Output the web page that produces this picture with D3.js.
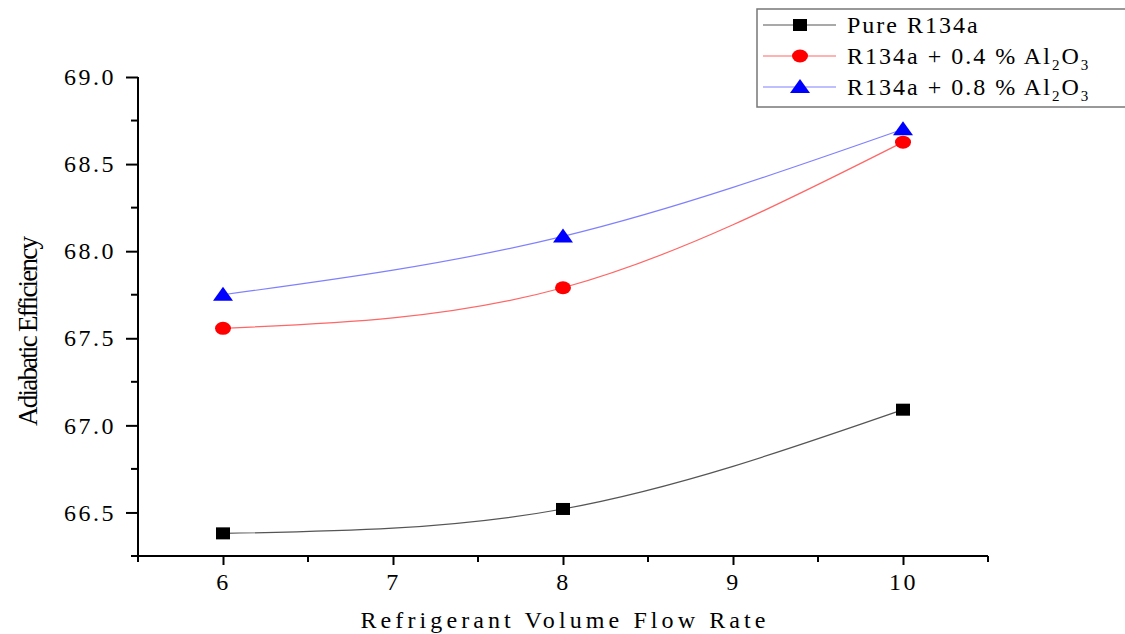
<!DOCTYPE html>
<html>
<head>
<meta charset="utf-8">
<script src="https://cdn.jsdelivr.net/npm/d3@7"></script>
<style>
  body { margin: 0; background: #fff; }
  svg text { font-family: "Liberation Serif", "DejaVu Serif", "Times New Roman", Times, serif !important; fill: #000; }
</style>
</head>
<body>
<script>
// data
var flowRate = [6, 8, 10];
var pureR134a = [66.38, 66.52, 67.09];
var al2o3_04 = [67.557, 67.79, 68.626];
var al2o3_08 = [67.75, 68.085, 68.70];
var yTicks = [66.5, 67.0, 67.5, 68.0, 68.5, 69.0];
var xTicks = [6, 7, 8, 9, 10];

var width = 1125, height = 634;

var svg = d3.select("body")
  .append("svg")
  .attr("width", width)
  .attr("height", height);

var x = d3.scaleLinear().domain([5.5, 10.5]).range([138, 988]);
var y = d3.scaleLinear().domain([66.25, 69.0]).range([556, 77]);

// axes
var xAxis = d3.axisBottom(x).tickValues(xTicks).tickSize(9).tickFormat(d3.format("d"));
var yAxis = d3.axisLeft(y).tickValues(yTicks).tickSize(12).tickFormat(d3.format(".1f"));

var gx = svg.append("g").attr("transform", "translate(0,556)").call(xAxis);
var gy = svg.append("g").attr("transform", "translate(138,0)").call(yAxis);
gx.attr("font-family", null);
gy.attr("font-family", null);

// minor ticks
var xMinor = [5.5, 6.5, 7.5, 8.5, 9.5, 10.5];
var yMinor = [66.25, 66.75, 67.25, 67.75, 68.25, 68.75];
svg.append("g").selectAll("line").data(xMinor).enter().append("line")
  .attr("x1", d => x(d)).attr("x2", d => x(d))
  .attr("y1", 556).attr("y2", 562)
  .attr("stroke", "#000").attr("stroke-width", 2);
svg.append("g").selectAll("line").data(yMinor).enter().append("line")
  .attr("x1", 131).attr("x2", 138)
  .attr("y1", d => y(d)).attr("y2", d => y(d))
  .attr("stroke", "#000").attr("stroke-width", 2);

[gx, gy].forEach(function(g) {
  g.select(".domain").attr("stroke", "#000").attr("stroke-width", 2)
  g.selectAll(".tick line").attr("stroke", "#000").attr("stroke-width", 2)
  g.selectAll(".tick text")
    .style("font-size", "24px")
    .style("letter-spacing", "2.5px")
    .attr("fill", "#000")
});
gx.select(".domain").attr("d", "M138,0H988");
gy.select(".domain").attr("d", "M0,556V77");
gx.selectAll(".tick text").attr("dy", "0.71em").attr("y", 17);
gy.selectAll(".tick text").attr("x", -22);

// axis titles
svg.append("text")
  .attr("x", 563).attr("y", 628)
  .attr("text-anchor", "middle")
  .attr("textLength", 405)
  .style("font-size", "24px")
  .text("Refrigerant Volume Flow Rate");

svg.append("text")
  .attr("transform", "translate(37,331) rotate(-90)")
  .attr("text-anchor", "middle")
  .attr("textLength", 190)
  .style("font-size", "27px")
  .text("Adiabatic Efficiency");

// series
var series = [
  { name: "Pure R134a", values: pureR134a, color: "#000", line: "#555", shape: "square" },
  { name: "R134a + 0.4 % Al2O3", values: al2o3_04, color: "#ff0000", line: "#ff6666", shape: "circle" },
  { name: "R134a + 0.8 % Al2O3", values: al2o3_08, color: "#0000ff", line: "#8080ff", shape: "triangle" }
];

var line = d3.line()
  .x(d => x(d[0]))
  .y(d => y(d[1]))
  .curve(d3.curveNatural);

function drawMarker(g, shape, color, cx, cy) {
  if (shape == "square") {
    g.append("rect").attr("x", cx - 7).attr("y", cy - 6).attr("width", 14).attr("height", 12).attr("fill", color);
  } else if (shape == "circle") {
    g.append("ellipse").attr("cx", cx).attr("cy", cy).attr("rx", 8).attr("ry", 6.5).attr("fill", color);
  } else {
    g.append("path").attr("d", "M" + cx + "," + (cy - 8) + "L" + (cx + 10) + "," + (cy + 6) + "L" + (cx - 10) + "," + (cy + 6) + "Z").attr("fill", color);
  }
}

series.forEach(function(s) {
  var pts = flowRate.map((f, i) => [f, s.values[i]]);
  svg.append("path")
    .datum(pts)
    .attr("d", line)
    .attr("fill", "none")
    .attr("stroke", s.line)
    .attr("stroke-width", 1.2);
  var g = svg.append("g");
  pts.forEach(function(p) {
    drawMarker(g, s.shape, s.color, x(p[0]), y(p[1]));
  });
});

// legend
var legend = svg.append("g");
legend.append("rect")
  .attr("x", 757).attr("y", 9)
  .attr("width", 380).attr("height", 98)
  .attr("fill", "#fff")
  .attr("stroke", "#777").attr("stroke-width", 1.5);

var legendY = [25, 56, 87];
series.forEach(function(s, i) {
  var ly = legendY[i];
  legend.append("line")
    .attr("x1", 763).attr("x2", 836)
    .attr("y1", ly).attr("y2", ly)
    .attr("stroke", s.line).attr("stroke-width", 1.2);
  drawMarker(legend, s.shape, s.color, 800, ly);
  var t = legend.append("text")
    .attr("x", 847).attr("y", ly + 8)
    .style("font-size", "24px")
    .style("letter-spacing", "2px");
  if (i == 0) {
    t.text(s.name);
  } else {
    var base = s.name.replace(" Al2O3", " Al");
    t.append("tspan").text(base);
    t.append("tspan").attr("dy", 6).style("font-size", "15px").text("2");
    t.append("tspan").attr("dy", -6).text("O");
    t.append("tspan").attr("dy", 6).style("font-size", "15px").text("3");
  }
});
</script>
</body>
</html>
